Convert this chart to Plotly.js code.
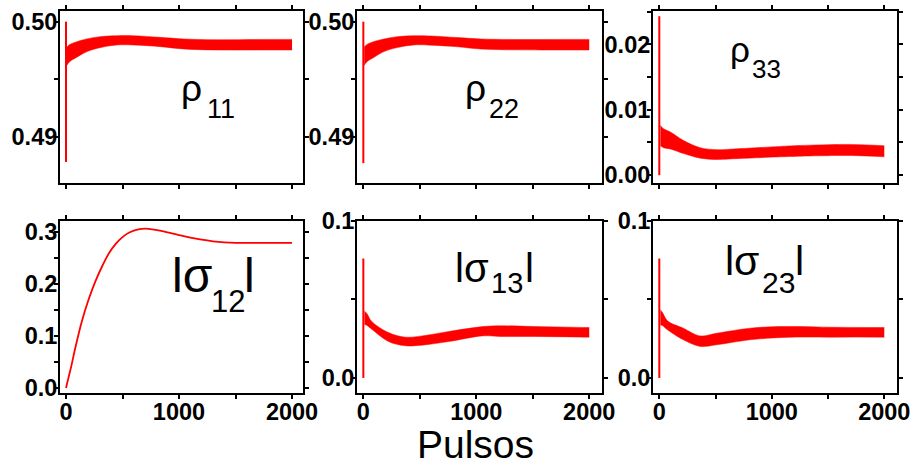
<!DOCTYPE html>
<html>
<head>
<meta charset="utf-8">
<script src="https://cdn.plot.ly/plotly-3.0.1.min.js"></script>
<style>
  html, body { margin: 0; padding: 0; background: #fff; }
  #chart { width: 911px; height: 465px; }
</style>
</head>
<body>
<div id="chart"></div>
<script>
// ---- data: populations and coherences versus number of pulses ----
// Bands are the envelope (lower / upper) of the fast pulse-to-pulse oscillation.
const rho11Pulses = [8, 30, 95, 183, 301, 448, 596, 832, 1038, 1333, 1776, 2000];
const rho11Upper  = [0.4978, 0.4980, 0.49826, 0.4985, 0.4987, 0.49878, 0.49878, 0.49864, 0.4985, 0.49843, 0.49846, 0.49846];
const rho11Lower  = [0.4962, 0.4965, 0.4969, 0.49739, 0.49774, 0.49797, 0.49797, 0.49783, 0.49763, 0.49754, 0.49754, 0.49754];
const rho11Spike  = [0.4878, 0.5000];

const rho22Pulses = [8, 30, 95, 183, 301, 448, 596, 832, 1038, 1333, 1776, 2000];
const rho22Upper  = [0.4978, 0.4980, 0.49828, 0.4985, 0.4987, 0.49878, 0.49876, 0.49862, 0.4985, 0.49845, 0.49846, 0.49846];
const rho22Lower  = [0.4962, 0.4965, 0.4969, 0.49740, 0.49775, 0.49798, 0.49796, 0.49782, 0.49762, 0.49755, 0.49754, 0.49754];
const rho22Spike  = [0.4877, 0.5000];

const rho33Pulses = [10, 38, 98, 216, 364, 513, 661, 1076, 1253, 1698, 2000];
const rho33Upper  = [0.0076, 0.0071, 0.0066, 0.0053, 0.0042, 0.0039, 0.0040, 0.0044, 0.00454, 0.0047, 0.0045];
const rho33Lower  = [0.0045, 0.0042, 0.0040, 0.0033, 0.0026, 0.0024, 0.0025, 0.0028, 0.0029, 0.0030, 0.0028];
const rho33Spike  = [0.0, 0.0243];

const sigma12Pulses = [0, 20, 50, 80, 140, 200, 260, 320, 380, 440, 500, 560, 640, 730, 820, 900, 1000, 1100, 1200, 1300, 1400, 1500, 1600, 1800, 2000];
const sigma12Abs    = [0, 0.018, 0.045, 0.075, 0.128, 0.170, 0.205, 0.234, 0.259, 0.277, 0.290, 0.299, 0.305, 0.306, 0.303, 0.299, 0.294, 0.289, 0.285, 0.282, 0.280, 0.279, 0.279, 0.279, 0.279];

const sigma13Pulses = [10, 30, 75, 223, 371, 520, 757, 1054, 1213, 1509, 2000];
const sigma13Upper  = [0.0425, 0.0412, 0.0359, 0.0289, 0.0260, 0.0268, 0.0296, 0.0327, 0.0332, 0.0328, 0.0321];
const sigma13Lower  = [0.0340, 0.0335, 0.0310, 0.0232, 0.0205, 0.0209, 0.0232, 0.0268, 0.0264, 0.0264, 0.0260];
const sigma13Spike  = [0.0, 0.0761];

const sigma23Pulses = [10, 30, 75, 214, 362, 510, 807, 1104, 1549, 2000];
const sigma23Upper  = [0.0433, 0.0415, 0.0362, 0.0317, 0.0268, 0.0285, 0.0317, 0.0328, 0.0323, 0.0321];
const sigma23Lower  = [0.0338, 0.0333, 0.0305, 0.0243, 0.0201, 0.0211, 0.0243, 0.0258, 0.0260, 0.0260];
const sigma23Spike  = [0.0, 0.0761];

// panel labels: [main, subscript, trailing]
const rho11Label   = ['ρ', '11', ''];
const rho22Label   = ['ρ', '22', ''];
const rho33Label   = ['ρ', '33', ''];
const sigma12Label = ['lσ', '12', 'l'];
const sigma13Label = ['lσ', '13', 'l'];
const sigma23Label = ['lσ', '23', 'l'];
const xAxisTitle   = 'Pulsos';

// ---- layout helpers (pixel geometry of the 911 x 465 figure) ----
const W = 911, H = 465;
const RED = '#ff0000';
const FONT = 'Arial, "Liberation Sans", Arimo, sans-serif';

const px2x = p => p / W;
const px2y = p => 1 - p / H;

function bandTraces(xa, ya, pulses, lower, upper, spike) {
  return [
    { x: [0, 0], y: spike, xaxis: xa, yaxis: ya, mode: 'lines',
      line: { color: RED, width: 2 }, hoverinfo: 'skip' },
    { x: pulses, y: lower, xaxis: xa, yaxis: ya, mode: 'lines',
      line: { color: RED, width: 0.5, shape: 'spline' }, hoverinfo: 'skip' },
    { x: pulses, y: upper, xaxis: xa, yaxis: ya, mode: 'lines', fill: 'tonexty',
      fillcolor: RED, line: { color: RED, width: 0.5, shape: 'spline' }, hoverinfo: 'skip' }
  ];
}

const traces = [
  ...bandTraces('x', 'y', rho11Pulses, rho11Lower, rho11Upper, rho11Spike),
  ...bandTraces('x2', 'y2', rho22Pulses, rho22Lower, rho22Upper, rho22Spike),
  ...bandTraces('x3', 'y3', rho33Pulses, rho33Lower, rho33Upper, rho33Spike),
  { x: sigma12Pulses, y: sigma12Abs, xaxis: 'x4', yaxis: 'y4', mode: 'lines',
    line: { color: RED, width: 1.8, shape: 'spline' }, hoverinfo: 'skip' },
  ...bandTraces('x5', 'y5', sigma13Pulses, sigma13Lower, sigma13Upper, sigma13Spike),
  ...bandTraces('x6', 'y6', sigma23Pulses, sigma23Lower, sigma23Upper, sigma23Spike)
];

const tickFont = { family: FONT, size: 23.5, weight: 'bold', color: '#000' };

function axis(extra) {
  return Object.assign({
    showline: true, linecolor: '#000', linewidth: 2, mirror: 'ticks',
    ticks: 'outside', ticklen: 4, tickwidth: 2, tickcolor: '#000',
    showgrid: false, zeroline: false, fixedrange: true, tickfont: tickFont
  }, extra);
}

function xAxis(l, r, range, anchor, labels) {
  return axis({
    domain: [px2x(l), px2x(r)], range: range, anchor: anchor,
    tickmode: 'linear', tick0: 0, dtick: 1000, showticklabels: labels,
    ticklabelstandoff: -7,
    minor: { ticks: 'outside', dtick: 500, ticklen: 4, tickwidth: 2, tickcolor: '#000' }
  });
}

function yAxis(t, b, range, anchor, dtick, minorDtick, fmt) {
  return axis({
    domain: [px2y(b), px2y(t)], range: range, anchor: anchor,
    tickmode: 'linear', tick0: 0, dtick: dtick, tickformat: fmt,
    ticklabelstandoff: -8,
    minor: { ticks: 'outside', dtick: minorDtick, ticklen: 4, tickwidth: 2, tickcolor: '#000' }
  });
}

// column and row pixel extents
const col1 = [60, 303], col2 = [357, 602], col3 = [653, 897];
const row1 = [11, 183], row2 = [221, 393];
const xr1 = [-53, 2097], xr2 = [-56, 2113];

// label pieces placed by left edge and baseline (pixels)
function piece(text, left, baseline, size) {
  return {
    xref: 'paper', yref: 'paper', x: px2x(left - 2), y: px2y(baseline - 0.3465 * size),
    xanchor: 'left', yanchor: 'middle', showarrow: false, text: text,
    font: { family: FONT, size: size, color: '#000' }
  };
}

function label(parts, geom) {
  const out = [piece(parts[0], geom.mainLeft, geom.mainBase, geom.mainSize),
               piece(parts[1], geom.subLeft, geom.subBase, geom.subSize)];
  if (parts[2]) out.push(piece(parts[2], geom.tailLeft, geom.mainBase, geom.mainSize));
  return out;
}

const annotations = [
  ...label(rho11Label, { mainLeft: 181, mainBase: 101, mainSize: 37, subLeft: 207, subBase: 118, subSize: 27 }),
  ...label(rho22Label, { mainLeft: 465, mainBase: 101, mainSize: 37, subLeft: 489, subBase: 118, subSize: 27 }),
  ...label(rho33Label, { mainLeft: 730, mainBase: 62, mainSize: 35, subLeft: 752, subBase: 78, subSize: 26 }),
  ...label(sigma12Label, { mainLeft: 172, mainBase: 292, mainSize: 48, subLeft: 211, subBase: 312, subSize: 31, tailLeft: 244 }),
  ...label(sigma13Label, { mainLeft: 455, mainBase: 282, mainSize: 40, subLeft: 491, subBase: 293, subSize: 29, tailLeft: 525 }),
  ...label(sigma23Label, { mainLeft: 725, mainBase: 275, mainSize: 41, subLeft: 762, subBase: 293, subSize: 30, tailLeft: 795 }),
  {
    xref: 'paper', yref: 'paper', x: px2x(475), y: px2y(458 - 0.3465 * 39),
    xanchor: 'center', yanchor: 'middle', showarrow: false, text: xAxisTitle,
    font: { family: FONT, size: 39, color: '#000' }
  }
];

const layout = {
  width: W, height: H,
  margin: { l: 0, r: 0, t: 0, b: 0 },
  paper_bgcolor: '#fff', plot_bgcolor: '#fff',
  showlegend: false,
  xaxis:  xAxis(col1[0], col1[1], xr1, 'y', false),
  xaxis2: xAxis(col2[0], col2[1], xr2, 'y2', false),
  xaxis3: xAxis(col3[0], col3[1], xr2, 'y3', false),
  xaxis4: xAxis(col1[0], col1[1], xr1, 'y4', true),
  xaxis5: xAxis(col2[0], col2[1], xr2, 'y5', true),
  xaxis6: xAxis(col3[0], col3[1], xr2, 'y6', true),
  yaxis:  yAxis(row1[0], row1[1], [0.48597, 0.50093], 'x', 0.01, 0.005, '.2f'),
  yaxis2: yAxis(row1[0], row1[1], [0.48597, 0.50093], 'x2', 0.01, 0.005, '.2f'),
  yaxis3: yAxis(row1[0], row1[1], [-0.0012, 0.0251], 'x3', 0.01, 0.005, '.2f'),
  yaxis4: yAxis(row2[0], row2[1], [-0.0096, 0.321], 'x4', 0.1, 0.05, '.1f'),
  yaxis5: yAxis(row2[0], row2[1], [-0.0096, 0.1], 'x5', 0.1, 0.05, '.1f'),
  yaxis6: yAxis(row2[0], row2[1], [-0.0096, 0.1], 'x6', 0.1, 0.05, '.1f'),
  annotations: annotations
};

Plotly.newPlot('chart', traces, layout, { staticPlot: true, displayModeBar: false });
</script>
</body>
</html>
